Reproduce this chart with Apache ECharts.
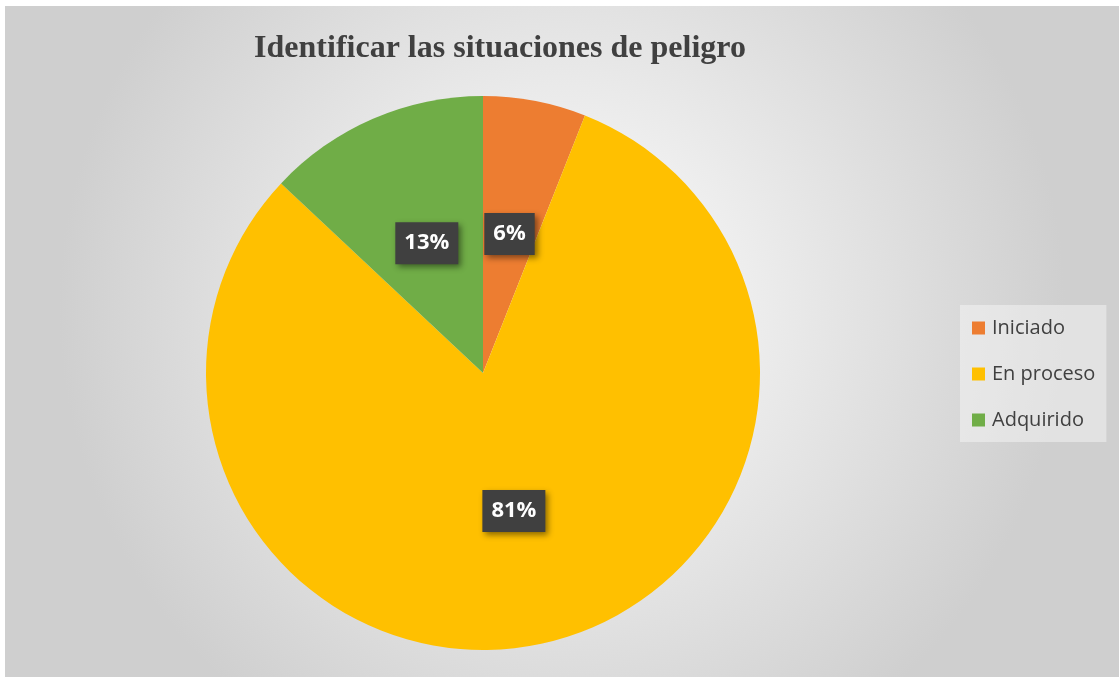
<!DOCTYPE html>
<html>
<head>
<meta charset="utf-8">
<script src="https://cdn.jsdelivr.net/npm/echarts@6/dist/echarts.min.js"></script>
<style>
  html, body { margin: 0; padding: 0; background: #fff; }
  #chart { position: absolute; left: 5px; top: 6px; width: 1114px; height: 671px; }
</style>
</head>
<body>
<div id="chart"></div>
<script>
  // categorías y porcentajes
  var categorias = ['Iniciado', 'En proceso', 'Adquirido'];
  var valores = [6, 81, 13];
  var colores = ['#ED7D31', '#FFC000', '#70AD47'];

  var myChart = echarts.init(document.getElementById('chart'));

  var datos = categorias.map(function (c, i) {
    return { name: c, value: valores[i], itemStyle: { color: colores[i] } };
  });

  var option = {
    backgroundColor: new echarts.graphic.RadialGradient(0.5, 0.45, 0.75, [{
      offset: 0, color: '#ffffff'
    }, {
      offset: 1, color: '#cfcfcf'
    }]),
    title: {
      text: 'Identificar las situaciones de peligro',
      left: 490,
      textAlign: 'center',
      top: 22,
      textStyle: {
        fontFamily: 'Liberation Serif',
        fontWeight: 'bold',
        fontSize: 32,
        color: '#404040'
      }
    },
    legend: {
      orient: 'vertical',
      left: 955,
      top: 299,
      padding: [13, 11, 12, 12],
      itemGap: 26,
      itemWidth: 13,
      itemHeight: 13,
      icon: 'rect',
      backgroundColor: 'rgba(255,255,255,0.4)',
      data: categorias,
      textStyle: {
        fontFamily: 'Open Sans',
        fontSize: 20,
        lineHeight: 20,
        color: '#404040',
        padding: [0, 0, 0, 2]
      }
    },
    series: [{
      type: 'pie',
      center: [478, 367],
      radius: [0, 277],
      startAngle: 90,
      clockwise: true,
      silent: true,
      data: datos,
      label: {
        show: true,
        position: 'inside',
        formatter: '{d}%',
        fontFamily: 'Open Sans',
        fontWeight: 'bold',
        fontSize: 22,
        color: '#ffffff',
        backgroundColor: '#404040',
        padding: [11, 9, 9, 9],
        shadowColor: 'rgba(0,0,0,0.45)',
        shadowBlur: 6,
        shadowOffsetX: 3,
        shadowOffsetY: 3
      },
      labelLine: { show: false }
    }]
  };
  myChart.setOption(option);
</script>
</body>
</html>
